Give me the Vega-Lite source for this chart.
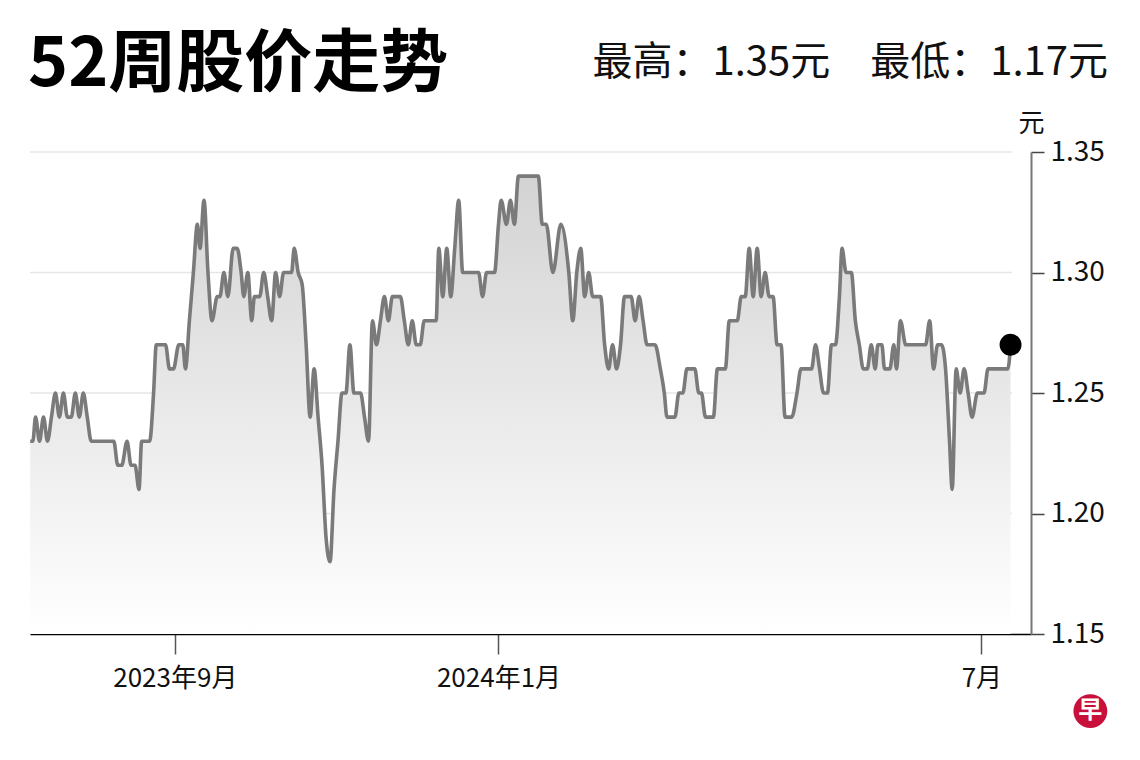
{
  "$schema": "https://vega.github.io/schema/vega-lite/v6.json",
  "autosize": "none",
  "width": 1001,
  "height": 482,
  "padding": {"left": 30, "top": 152, "right": 109, "bottom": 126},
  "background": "white",
  "config": {
    "font": "Noto Sans CJK SC",
    "view": {"stroke": null}
  },
  "resolve": {"axis": {"x": "independent", "y": "independent"}},
  "data": {
    "format": {"parse": {"date": "date"}},
    "values": [
      {"date": "2023-07-08T12:00", "price": 1.23},
      {"date": "2023-07-09T12:00", "price": 1.23},
      {"date": "2023-07-10T12:00", "price": 1.24},
      {"date": "2023-07-12T00:00", "price": 1.23},
      {"date": "2023-07-13T12:00", "price": 1.24},
      {"date": "2023-07-15T00:00", "price": 1.23},
      {"date": "2023-07-16T12:00", "price": 1.24},
      {"date": "2023-07-18T00:00", "price": 1.25},
      {"date": "2023-07-19T12:00", "price": 1.24},
      {"date": "2023-07-21T00:00", "price": 1.25},
      {"date": "2023-07-22T12:00", "price": 1.24},
      {"date": "2023-07-24T00:00", "price": 1.24},
      {"date": "2023-07-25T12:00", "price": 1.25},
      {"date": "2023-07-27T00:00", "price": 1.24},
      {"date": "2023-07-28T12:00", "price": 1.25},
      {"date": "2023-07-30T00:00", "price": 1.24},
      {"date": "2023-07-31T12:00", "price": 1.23},
      {"date": "2023-08-09T00:00", "price": 1.23},
      {"date": "2023-08-10T12:00", "price": 1.22},
      {"date": "2023-08-12T00:00", "price": 1.22},
      {"date": "2023-08-14T00:00", "price": 1.23},
      {"date": "2023-08-15T12:00", "price": 1.22},
      {"date": "2023-08-17T00:00", "price": 1.22},
      {"date": "2023-08-18T12:00", "price": 1.21},
      {"date": "2023-08-19T12:00", "price": 1.23},
      {"date": "2023-08-22T12:00", "price": 1.23},
      {"date": "2023-08-24T00:00", "price": 1.25},
      {"date": "2023-08-25T00:00", "price": 1.27},
      {"date": "2023-08-28T12:00", "price": 1.27},
      {"date": "2023-08-30T00:00", "price": 1.26},
      {"date": "2023-08-31T12:00", "price": 1.26},
      {"date": "2023-09-02T12:00", "price": 1.27},
      {"date": "2023-09-04T00:00", "price": 1.27},
      {"date": "2023-09-05T00:00", "price": 1.26},
      {"date": "2023-09-06T12:00", "price": 1.28},
      {"date": "2023-09-08T00:00", "price": 1.30},
      {"date": "2023-09-09T12:00", "price": 1.32},
      {"date": "2023-09-10T12:00", "price": 1.31},
      {"date": "2023-09-12T00:00", "price": 1.33},
      {"date": "2023-09-13T12:00", "price": 1.30},
      {"date": "2023-09-15T00:00", "price": 1.28},
      {"date": "2023-09-17T00:00", "price": 1.29},
      {"date": "2023-09-18T00:00", "price": 1.29},
      {"date": "2023-09-19T12:00", "price": 1.30},
      {"date": "2023-09-21T00:00", "price": 1.29},
      {"date": "2023-09-23T00:00", "price": 1.31},
      {"date": "2023-09-24T12:00", "price": 1.31},
      {"date": "2023-09-26T00:00", "price": 1.30},
      {"date": "2023-09-27T00:00", "price": 1.29},
      {"date": "2023-09-28T12:00", "price": 1.30},
      {"date": "2023-09-30T00:00", "price": 1.28},
      {"date": "2023-10-01T00:00", "price": 1.29},
      {"date": "2023-10-03T00:00", "price": 1.29},
      {"date": "2023-10-04T12:00", "price": 1.30},
      {"date": "2023-10-06T00:00", "price": 1.29},
      {"date": "2023-10-07T12:00", "price": 1.28},
      {"date": "2023-10-09T00:00", "price": 1.30},
      {"date": "2023-10-10T12:00", "price": 1.29},
      {"date": "2023-10-12T00:00", "price": 1.30},
      {"date": "2023-10-15T00:00", "price": 1.30},
      {"date": "2023-10-16T00:00", "price": 1.31},
      {"date": "2023-10-17T12:00", "price": 1.30},
      {"date": "2023-10-19T00:00", "price": 1.295},
      {"date": "2023-10-20T12:00", "price": 1.27},
      {"date": "2023-10-22T00:00", "price": 1.24},
      {"date": "2023-10-23T12:00", "price": 1.26},
      {"date": "2023-10-25T00:00", "price": 1.24},
      {"date": "2023-10-26T12:00", "price": 1.22},
      {"date": "2023-10-28T00:00", "price": 1.19},
      {"date": "2023-10-29T12:00", "price": 1.18},
      {"date": "2023-10-31T00:00", "price": 1.21},
      {"date": "2023-11-01T12:00", "price": 1.23},
      {"date": "2023-11-03T00:00", "price": 1.25},
      {"date": "2023-11-04T12:00", "price": 1.25},
      {"date": "2023-11-06T00:00", "price": 1.27},
      {"date": "2023-11-07T12:00", "price": 1.25},
      {"date": "2023-11-10T00:00", "price": 1.25},
      {"date": "2023-11-11T12:00", "price": 1.24},
      {"date": "2023-11-13T00:00", "price": 1.23},
      {"date": "2023-11-14T12:00", "price": 1.28},
      {"date": "2023-11-16T00:00", "price": 1.27},
      {"date": "2023-11-17T12:00", "price": 1.28},
      {"date": "2023-11-19T00:00", "price": 1.29},
      {"date": "2023-11-20T12:00", "price": 1.28},
      {"date": "2023-11-22T00:00", "price": 1.29},
      {"date": "2023-11-25T00:00", "price": 1.29},
      {"date": "2023-11-26T12:00", "price": 1.28},
      {"date": "2023-11-28T00:00", "price": 1.27},
      {"date": "2023-11-29T12:00", "price": 1.28},
      {"date": "2023-12-01T00:00", "price": 1.27},
      {"date": "2023-12-02T12:00", "price": 1.27},
      {"date": "2023-12-04T00:00", "price": 1.28},
      {"date": "2023-12-08T12:00", "price": 1.28},
      {"date": "2023-12-09T12:00", "price": 1.31},
      {"date": "2023-12-11T00:00", "price": 1.29},
      {"date": "2023-12-12T12:00", "price": 1.31},
      {"date": "2023-12-14T00:00", "price": 1.29},
      {"date": "2023-12-15T12:00", "price": 1.31},
      {"date": "2023-12-17T00:00", "price": 1.33},
      {"date": "2023-12-18T12:00", "price": 1.30},
      {"date": "2023-12-24T12:00", "price": 1.30},
      {"date": "2023-12-26T00:00", "price": 1.29},
      {"date": "2023-12-27T12:00", "price": 1.30},
      {"date": "2023-12-30T12:00", "price": 1.30},
      {"date": "2024-01-01T00:00", "price": 1.32},
      {"date": "2024-01-02T00:00", "price": 1.33},
      {"date": "2024-01-04T00:00", "price": 1.32},
      {"date": "2024-01-05T12:00", "price": 1.33},
      {"date": "2024-01-07T00:00", "price": 1.32},
      {"date": "2024-01-08T12:00", "price": 1.34},
      {"date": "2024-01-16T00:00", "price": 1.34},
      {"date": "2024-01-17T12:00", "price": 1.32},
      {"date": "2024-01-19T00:00", "price": 1.32},
      {"date": "2024-01-21T12:00", "price": 1.30},
      {"date": "2024-01-24T12:00", "price": 1.32},
      {"date": "2024-01-27T12:00", "price": 1.30},
      {"date": "2024-01-29T00:00", "price": 1.28},
      {"date": "2024-01-30T12:00", "price": 1.30},
      {"date": "2024-02-01T00:00", "price": 1.31},
      {"date": "2024-02-02T12:00", "price": 1.29},
      {"date": "2024-02-04T00:00", "price": 1.30},
      {"date": "2024-02-05T12:00", "price": 1.29},
      {"date": "2024-02-08T12:00", "price": 1.29},
      {"date": "2024-02-10T00:00", "price": 1.27},
      {"date": "2024-02-11T12:00", "price": 1.26},
      {"date": "2024-02-13T00:00", "price": 1.27},
      {"date": "2024-02-14T12:00", "price": 1.26},
      {"date": "2024-02-16T00:00", "price": 1.27},
      {"date": "2024-02-17T12:00", "price": 1.29},
      {"date": "2024-02-20T00:00", "price": 1.29},
      {"date": "2024-02-21T12:00", "price": 1.28},
      {"date": "2024-02-23T00:00", "price": 1.29},
      {"date": "2024-02-24T12:00", "price": 1.28},
      {"date": "2024-02-26T00:00", "price": 1.27},
      {"date": "2024-02-29T00:00", "price": 1.27},
      {"date": "2024-03-02T00:00", "price": 1.26},
      {"date": "2024-03-03T12:00", "price": 1.25},
      {"date": "2024-03-04T12:00", "price": 1.24},
      {"date": "2024-03-07T12:00", "price": 1.24},
      {"date": "2024-03-09T00:00", "price": 1.25},
      {"date": "2024-03-10T12:00", "price": 1.25},
      {"date": "2024-03-12T00:00", "price": 1.26},
      {"date": "2024-03-15T00:00", "price": 1.26},
      {"date": "2024-03-16T12:00", "price": 1.25},
      {"date": "2024-03-17T12:00", "price": 1.25},
      {"date": "2024-03-19T00:00", "price": 1.24},
      {"date": "2024-03-22T00:00", "price": 1.24},
      {"date": "2024-03-23T12:00", "price": 1.26},
      {"date": "2024-03-26T12:00", "price": 1.26},
      {"date": "2024-03-28T00:00", "price": 1.28},
      {"date": "2024-03-31T00:00", "price": 1.28},
      {"date": "2024-04-01T12:00", "price": 1.29},
      {"date": "2024-04-03T00:00", "price": 1.29},
      {"date": "2024-04-04T12:00", "price": 1.31},
      {"date": "2024-04-06T00:00", "price": 1.29},
      {"date": "2024-04-07T12:00", "price": 1.31},
      {"date": "2024-04-09T00:00", "price": 1.29},
      {"date": "2024-04-10T12:00", "price": 1.30},
      {"date": "2024-04-12T00:00", "price": 1.29},
      {"date": "2024-04-13T12:00", "price": 1.29},
      {"date": "2024-04-15T00:00", "price": 1.27},
      {"date": "2024-04-16T12:00", "price": 1.27},
      {"date": "2024-04-18T00:00", "price": 1.24},
      {"date": "2024-04-20T12:00", "price": 1.24},
      {"date": "2024-04-22T12:00", "price": 1.25},
      {"date": "2024-04-24T00:00", "price": 1.26},
      {"date": "2024-04-28T00:00", "price": 1.26},
      {"date": "2024-04-29T12:00", "price": 1.27},
      {"date": "2024-05-01T00:00", "price": 1.26},
      {"date": "2024-05-02T12:00", "price": 1.25},
      {"date": "2024-05-04T00:00", "price": 1.25},
      {"date": "2024-05-05T12:00", "price": 1.27},
      {"date": "2024-05-07T00:00", "price": 1.27},
      {"date": "2024-05-08T12:00", "price": 1.29},
      {"date": "2024-05-09T12:00", "price": 1.31},
      {"date": "2024-05-11T00:00", "price": 1.30},
      {"date": "2024-05-13T00:00", "price": 1.30},
      {"date": "2024-05-14T12:00", "price": 1.28},
      {"date": "2024-05-16T00:00", "price": 1.27},
      {"date": "2024-05-17T12:00", "price": 1.26},
      {"date": "2024-05-19T00:00", "price": 1.26},
      {"date": "2024-05-20T12:00", "price": 1.27},
      {"date": "2024-05-22T00:00", "price": 1.26},
      {"date": "2024-05-23T00:00", "price": 1.27},
      {"date": "2024-05-24T12:00", "price": 1.27},
      {"date": "2024-05-25T12:00", "price": 1.26},
      {"date": "2024-05-27T12:00", "price": 1.26},
      {"date": "2024-05-29T00:00", "price": 1.27},
      {"date": "2024-05-30T00:00", "price": 1.26},
      {"date": "2024-05-31T12:00", "price": 1.28},
      {"date": "2024-06-02T12:00", "price": 1.27},
      {"date": "2024-06-10T00:00", "price": 1.27},
      {"date": "2024-06-11T12:00", "price": 1.28},
      {"date": "2024-06-13T00:00", "price": 1.26},
      {"date": "2024-06-14T12:00", "price": 1.27},
      {"date": "2024-06-16T00:00", "price": 1.27},
      {"date": "2024-06-17T12:00", "price": 1.26},
      {"date": "2024-06-19T00:00", "price": 1.23},
      {"date": "2024-06-20T00:00", "price": 1.21},
      {"date": "2024-06-21T12:00", "price": 1.26},
      {"date": "2024-06-23T00:00", "price": 1.25},
      {"date": "2024-06-24T12:00", "price": 1.26},
      {"date": "2024-06-26T00:00", "price": 1.25},
      {"date": "2024-06-27T12:00", "price": 1.24},
      {"date": "2024-06-29T12:00", "price": 1.25},
      {"date": "2024-07-02T00:00", "price": 1.25},
      {"date": "2024-07-03T12:00", "price": 1.26},
      {"date": "2024-07-11T00:00", "price": 1.26},
      {"date": "2024-07-12T00:00", "price": 1.27}
    ]
  },
  "layer": [
    {
      "data": {"values": [{"level": 1.2}, {"level": 1.25}, {"level": 1.3}, {"level": 1.35}]},
      "mark": {"type": "rule", "color": "#e6e6e6", "strokeWidth": 1.5},
      "encoding": {
        "x": {"datum": {"year": 2023, "month": 7, "date": 8, "hours": 10}, "type": "temporal", "axis": null},
        "x2": {"datum": {"year": 2024, "month": 7, "date": 12, "hours": 13}},
        "y": {"field": "level", "type": "quantitative", "axis": null}
      }
    },
    {
      "mark": {
        "type": "area",
        "interpolate": "monotone",
        "color": {
          "gradient": "linear",
          "x1": 0, "y1": 0, "x2": 0, "y2": 1,
          "stops": [
            {"offset": 0, "color": "#d3d3d3"},
            {"offset": 1, "color": "#ffffff"}
          ]
        }
      },
      "encoding": {
        "x": {
          "field": "date",
          "type": "temporal",
          "scale": {
            "domain": [
              {"year": 2023, "month": 7, "date": 8, "hours": 10},
              {"year": 2024, "month": 7, "date": 19, "hours": 17}
            ],
            "nice": false
          },
          "axis": {
            "title": null,
            "grid": false,
            "values": [
              {"year": 2023, "month": 9, "date": 1},
              {"year": 2024, "month": 1, "date": 1},
              {"year": 2024, "month": 7, "date": 1}
            ],
            "labelExpr": "month(datum.value) == 6 ? '7月' : year(datum.value) + '年' + (month(datum.value) + 1) + '月'",
            "labelFontSize": 26,
            "labelColor": "#111111",
            "labelPadding": 11,
            "labelFlush": false,
            "labelOverlap": false,
            "domainColor": "#000000",
            "domainWidth": 1.5,
            "tickColor": "#555555",
            "tickSize": 20,
            "tickWidth": 1.5
          }
        },
        "y": {
          "field": "price",
          "type": "quantitative",
          "scale": {"domain": [1.15, 1.35], "zero": false, "nice": false},
          "axis": {
            "orient": "right",
            "grid": false,
            "values": [1.15, 1.2, 1.25, 1.3, 1.35],
            "format": ".2f",
            "labelFontSize": 28,
            "labelColor": "#111111",
            "labelPadding": 6,
            "labelFlush": false,
            "domainColor": "#777777",
            "domainWidth": 2,
            "tickColor": "#444444",
            "tickSize": 13,
            "tickWidth": 1.5,
            "title": "元",
            "titleAngle": 0,
            "titleFontSize": 26,
            "titleFontWeight": "normal",
            "titleColor": "#111111",
            "titleAlign": "center",
            "titleBaseline": "bottom",
            "titleX": 0,
            "titleY": -16
          }
        },
        "y2": {"datum": 1.15}
      }
    },
    {
      "mark": {"type": "line", "interpolate": "monotone", "color": "#7a7a7a", "strokeWidth": 3.6, "strokeJoin": "round"},
      "encoding": {
        "x": {"field": "date", "type": "temporal", "axis": null},
        "y": {"field": "price", "type": "quantitative", "axis": null}
      }
    },
    {
      "transform": [{"filter": "datum.date >= datetime(2024, 6, 12)"}],
      "mark": {"type": "point", "filled": true, "color": "#000000", "size": 480, "opacity": 1},
      "encoding": {
        "x": {"field": "date", "type": "temporal", "axis": null},
        "y": {"field": "price", "type": "quantitative", "axis": null}
      }
    },
    {
      "data": {"values": [{"label": "52周股价走势"}]},
      "mark": {"type": "text", "align": "left", "baseline": "alphabetic", "fontSize": 68, "fontWeight": "bold", "color": "#000000"},
      "encoding": {
        "x": {"datum": {"year": 2023, "month": 7, "date": 7, "hours": 16}, "type": "temporal", "axis": null},
        "y": {"datum": 1.3774, "type": "quantitative", "axis": null},
        "text": {"field": "label"}
      }
    },
    {
      "data": {"values": [{"label": "最高：1.35元　最低：1.17元"}]},
      "mark": {"type": "text", "align": "right", "baseline": "alphabetic", "fontSize": 40, "color": "#111111"},
      "encoding": {
        "x": {"datum": {"year": 2024, "month": 8, "date": 17, "hours": 17}, "type": "temporal", "axis": null},
        "y": {"datum": 1.382, "type": "quantitative", "axis": null},
        "text": {"field": "label"}
      }
    },
    {
      "data": {"values": [{"logo": "早"}]},
      "mark": {"type": "point", "filled": true, "color": "#c8103a", "size": 1150, "opacity": 1},
      "encoding": {
        "x": {"datum": {"year": 2024, "month": 8, "date": 11, "hours": 2}, "type": "temporal", "axis": null},
        "y": {"datum": 1.118, "type": "quantitative", "axis": null}
      }
    },
    {
      "data": {"values": [{"logo": "早"}]},
      "mark": {"type": "text", "align": "center", "baseline": "middle", "fontSize": 24, "fontWeight": "bold", "color": "#ffffff"},
      "encoding": {
        "x": {"datum": {"year": 2024, "month": 8, "date": 11, "hours": 2}, "type": "temporal", "axis": null},
        "y": {"datum": 1.118, "type": "quantitative", "axis": null},
        "text": {"field": "logo"}
      }
    }
  ]
}
